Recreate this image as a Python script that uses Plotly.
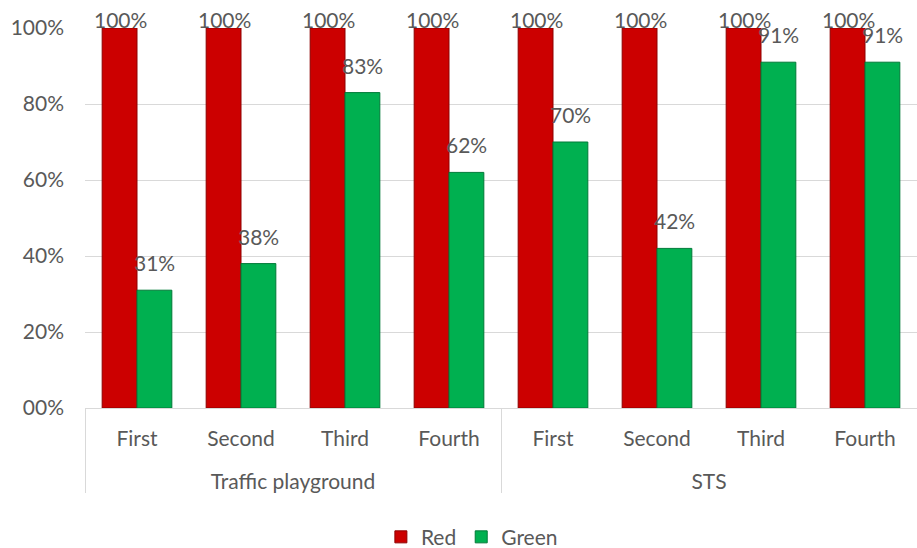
import plotly.graph_objects as go

groups = ["Traffic playground"] * 4 + ["STS"] * 4
categories = ["First", "Second", "Third", "Fourth"] * 2
red_values = [1.00, 1.00, 1.00, 1.00, 1.00, 1.00, 1.00, 1.00]
green_values = [0.31, 0.38, 0.83, 0.62, 0.70, 0.42, 0.91, 0.91]
y_tickvals = [0, 0.2, 0.4, 0.6, 0.8, 1.0]
y_ticktext = ["00%", "20%", "40%", "60%", "80%", "100%"]

FONT = "Lato, Carlito, Calibri, sans-serif"
TXT = "#595959"
FS = 21

group_labels = [" <br>" + g for g in groups]

fig = go.Figure()
fig.add_trace(go.Bar(
    name="Red", x=[group_labels, categories], y=red_values,
    marker=dict(color="#CC0000", line=dict(color="#8E0000", width=1)),
    cliponaxis=False,
))
fig.add_trace(go.Bar(
    name="Green", x=[group_labels, categories], y=green_values,
    marker=dict(color="#00B050", line=dict(color="#007A38", width=1)),
    cliponaxis=False,
))

# Value labels: centred on each bar, placed above its top
annotations = []
for i, v in enumerate(red_values):
    annotations.append(dict(
        x=i, y=v, xref="x", yref="y", text=f"{v:.0%}", showarrow=False,
        xanchor="center", yanchor="bottom", xshift=-17, yshift=-6,
        font=dict(size=FS, color=TXT, family=FONT),
    ))
for i, v in enumerate(green_values):
    annotations.append(dict(
        x=i, y=v, xref="x", yref="y", text=f"{v:.0%}", showarrow=False,
        xanchor="center", yanchor="bottom", xshift=17, yshift=13,
        font=dict(size=FS, color=TXT, family=FONT),
    ))

fig.update_layout(
    width=917, height=548,
    margin=dict(l=85, r=0, t=28, b=140, autoexpand=False),
    paper_bgcolor="white", plot_bgcolor="white",
    barmode="group", bargap=0.33, bargroupgap=0.0,
    font=dict(family=FONT, size=FS, color=TXT),
    showlegend=True,
    legend=dict(orientation="h", x=0.465, xanchor="center", y=-0.34, yanchor="middle",
                font=dict(size=FS, color=TXT, family=FONT), traceorder="normal",
                itemwidth=30),
    annotations=annotations,
)
fig.update_yaxes(
    range=[0, 1.0], tickvals=y_tickvals, ticktext=y_ticktext,
    showgrid=True, gridcolor="#D9D9D9", gridwidth=1,
    zeroline=False, showline=False, ticks="", ticklabelstandoff=20,
    tickfont=dict(size=FS, color=TXT, family=FONT),
)
fig.update_xaxes(
    type="multicategory", showline=True, linecolor="#D9D9D9", linewidth=1,
    showdividers=True, dividercolor="#D9D9D9", dividerwidth=1,
    tickfont=dict(size=FS, color=TXT, family=FONT), ticks="",
    ticklabelstandoff=12,
)

fig.write_html(
    "out.html",
    config={"displayModeBar": False},
    post_script="document.body.style.margin='0';document.body.style.overflow='hidden';",
)
